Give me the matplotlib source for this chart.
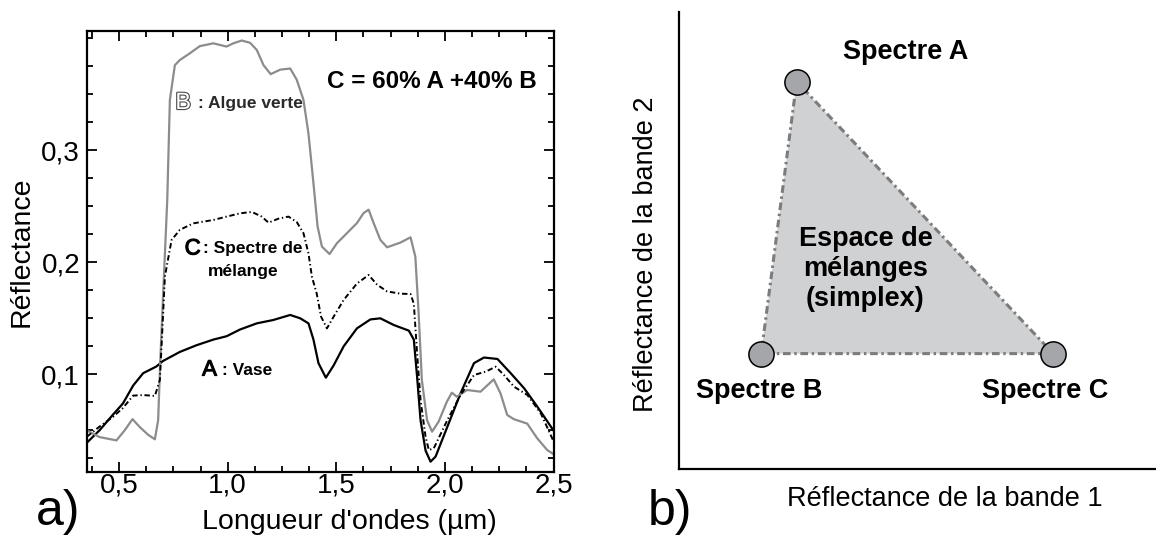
import matplotlib
matplotlib.use("Agg")
import matplotlib.pyplot as plt
import matplotlib.patheffects as pe

plt.rcParams['font.family'] = ['Liberation Sans', 'DejaVu Sans']

# --- panel a) : spectres de reflectance ---
wl_A = [0.352, 0.41, 0.472, 0.518, 0.565, 0.611, 0.672, 0.703, 0.78, 0.857, 0.934,
        0.995, 1.057, 1.134, 1.21, 1.288, 1.334, 1.372, 1.395, 1.418, 1.452, 1.488,
        1.534, 1.595, 1.657, 1.703, 1.765, 1.834, 1.857, 1.872, 1.888, 1.911, 1.934,
        1.957, 2.011, 2.072, 2.134, 2.18, 2.242, 2.303, 2.365, 2.426, 2.503]
refl_A = [0.039, 0.050, 0.064, 0.074, 0.090, 0.101, 0.107, 0.112, 0.120, 0.126, 0.131,
          0.134, 0.140, 0.1455, 0.1485, 0.153, 0.150, 0.1455, 0.131, 0.110, 0.097, 0.108,
          0.125, 0.141, 0.149, 0.150, 0.144, 0.139, 0.131, 0.098, 0.059, 0.032, 0.022,
          0.0265, 0.053, 0.083, 0.110, 0.115, 0.1137, 0.101, 0.0875, 0.071, 0.049]

wl_B = [0.352, 0.41, 0.488, 0.526, 0.562, 0.595, 0.634, 0.665, 0.68, 0.69, 0.722,
        0.734, 0.757, 0.78, 0.826, 0.872, 0.934, 0.995, 1.026, 1.065, 1.103, 1.134,
        1.165, 1.198, 1.242, 1.288, 1.318, 1.349, 1.372, 1.395, 1.414, 1.434, 1.469,
        1.503, 1.549, 1.595, 1.626, 1.649, 1.672, 1.703, 1.734, 1.795, 1.842, 1.864,
        1.879, 1.894, 1.918, 1.941, 1.971, 2.009, 2.032, 2.055, 2.102, 2.164, 2.225,
        2.256, 2.287, 2.317, 2.379, 2.425, 2.471, 2.5]
refl_B = [0.050, 0.044, 0.041, 0.050, 0.060, 0.053, 0.046, 0.042, 0.059, 0.113, 0.256,
          0.345, 0.376, 0.3806, 0.3866, 0.393, 0.3955, 0.3926, 0.3955, 0.398, 0.396, 0.3896,
          0.376, 0.368, 0.372, 0.373, 0.363, 0.345, 0.315, 0.2705, 0.232, 0.214, 0.2074,
          0.217, 0.226, 0.235, 0.244, 0.247, 0.235, 0.220, 0.2134, 0.2176, 0.2223, 0.205,
          0.155, 0.095, 0.059, 0.0488, 0.0577, 0.0755, 0.0836, 0.080, 0.086, 0.0845, 0.0955,
          0.083, 0.0637, 0.060, 0.056, 0.0429, 0.0324, 0.0288]

wl_C = [0.352, 0.41, 0.472, 0.518, 0.565, 0.611, 0.665, 0.688, 0.70, 0.711, 0.722,
        0.742, 0.78, 0.842, 0.934, 0.995, 1.057, 1.111, 1.157, 1.188, 1.234, 1.28,
        1.318, 1.349, 1.372, 1.388, 1.41, 1.43, 1.457, 1.488, 1.534, 1.595, 1.649,
        1.688, 1.734, 1.795, 1.842, 1.857, 1.872, 1.888, 1.911, 1.926, 1.949, 2.011,
        2.072, 2.134, 2.188, 2.234, 2.272, 2.318, 2.38, 2.442, 2.503]
refl_C = [0.0443, 0.0533, 0.062, 0.070, 0.081, 0.0815, 0.0807, 0.095, 0.1426, 0.187, 0.199,
          0.220, 0.229, 0.2348, 0.2378, 0.2408, 0.2437, 0.245, 0.2408, 0.2354, 0.239, 0.2408,
          0.236, 0.226, 0.208, 0.187, 0.172, 0.1515, 0.141, 0.1515, 0.1664, 0.181, 0.1887,
          0.180, 0.174, 0.172, 0.1717, 0.163, 0.119, 0.077, 0.0443, 0.0324, 0.034, 0.059,
          0.0815, 0.0994, 0.1024, 0.1068, 0.0994, 0.089, 0.0815, 0.065, 0.039]

xticks = [0.5, 1.0, 1.5, 2.0, 2.5]
xtick_labels = ['0,5', '1,0', '1,5', '2,0', '2,5']
yticks = [0.1, 0.2, 0.3]
ytick_labels = ['0,1', '0,2', '0,3']

# --- panel b) : simplex ---
end_names = ['Spectre A', 'Spectre B', 'Spectre C']
band1 = [0.2475, 0.1732, 0.7847]
band2 = [0.8477, 0.2525, 0.2525]

fig = plt.figure(figsize=(11.56, 5.40), dpi=100)

ax = fig.add_axes([87/1156, 68/540, 466.5/1156, 441/540])
ax.plot(wl_A, refl_A, color='black', lw=1.6)
ax.plot(wl_B, refl_B, color='#8c8c8c', lw=1.6)
ax.plot(wl_C, refl_C, color='black', lw=1.4, linestyle=(0, (2.8, 1.4, 0.7, 1.4)))
ax.set_xlim(0.3525, 2.5)
ax.set_ylim(0.0128, 0.4065)
ax.set_xticks(xticks)
ax.set_xticklabels(xtick_labels)
ax.set_yticks(yticks)
ax.set_yticklabels(ytick_labels)
ax.set_xticks([v / 8 for v in range(3, 21)], minor=True)
ax.set_yticks([v / 40 for v in range(1, 17)], minor=True)
ax.tick_params(which='both', direction='in', top=True, right=True, width=1.3)
ax.tick_params(which='major', length=7, labelsize=20)
ax.tick_params(which='minor', length=4.5)
ax.tick_params(axis='x', pad=0)
ax.tick_params(axis='y', pad=5)
for s in ax.spines.values():
    s.set_linewidth(1.6)

fig.text(22/1156, (540-252)/540, 'Réflectance', rotation=90, fontsize=20.5,
         ha='center', va='center')
fig.text(349/1156, (540-522)/540, "Longueur d'ondes (µm)", fontsize=20.5,
         ha='center', va='center')

ax.text(0.795, 0.3422, 'B', fontsize=17, color='white', ha='center', va='center',
        path_effects=[pe.withStroke(linewidth=1.6, foreground='#4a4a4a')])
ax.text(0.864, 0.3422, ': Algue verte', fontsize=12.5, fontweight='bold', color='#2a2a2a',
        ha='left', va='center')
ax.text(0.839, 0.2119, 'C', fontsize=16, ha='center', va='center',
        path_effects=[pe.withStroke(linewidth=0.8, foreground='black')])
ax.text(0.887, 0.2119, ': Spectre de', fontsize=12.5, fontweight='bold', ha='left', va='center')
ax.text(1.071, 0.1914, 'mélange', fontsize=12.5, fontweight='bold', ha='center', va='center')
ax.text(0.9166, 0.1038, 'A', fontsize=16, ha='center', va='center',
        path_effects=[pe.withStroke(linewidth=0.8, foreground='black')])
ax.text(0.9747, 0.1038, ': Vase', fontsize=12.5, fontweight='bold', ha='left', va='center')
ax.text(1.938, 0.361, 'C = 60% A +40% B', fontsize=17.5, fontweight='bold',
        ha='center', va='center')

fig.text(58/1156, (540-512)/540, 'a)', fontsize=36, ha='center', va='center')

# panel b
bx = fig.add_axes([678.5/1156, 71/540, 477.5/1156, 457/540])
bx.set_xlim(0, 1)
bx.set_ylim(0, 1)
bx.fill(band1, band2, facecolor='#d0d1d3', edgecolor='#7c7c7c', lw=2.2,
        linestyle=(0, (2.5, 1.2, 0.8, 1.2)), zorder=1)
bx.scatter(band1, band2, s=330, color='#a4a6a9', edgecolor='black', lw=1.1, zorder=3)
bx.text(0.4748, 0.913, end_names[0], fontsize=19.5, fontweight='bold', ha='center', va='center')
bx.text(0.168, 0.171, end_names[1], fontsize=19.5, fontweight='bold', ha='center', va='center')
bx.text(0.768, 0.171, end_names[2], fontsize=19.5, fontweight='bold', ha='center', va='center')
bx.text(0.3916, 0.438, 'Espace de\nmélanges\n(simplex)', fontsize=19.5, fontweight='bold',
        ha='center', va='center', linespacing=1.2)
bx.set_xticks([])
bx.set_yticks([])
bx.spines['top'].set_visible(False)
bx.spines['right'].set_visible(False)
bx.spines['left'].set_linewidth(1.6)
bx.spines['bottom'].set_linewidth(1.6)

fig.text(945/1156, (540-499)/540, 'Réflectance de la bande 1', fontsize=19.5,
         ha='center', va='center')
fig.text(646/1156, (540-254)/540, 'Réflectance de la bande 2', fontsize=19.5,
         rotation=90, ha='center', va='center')
fig.text(670/1156, (540-512)/540, 'b)', fontsize=36, ha='center', va='center')

fig.savefig('out.png', dpi=100)
